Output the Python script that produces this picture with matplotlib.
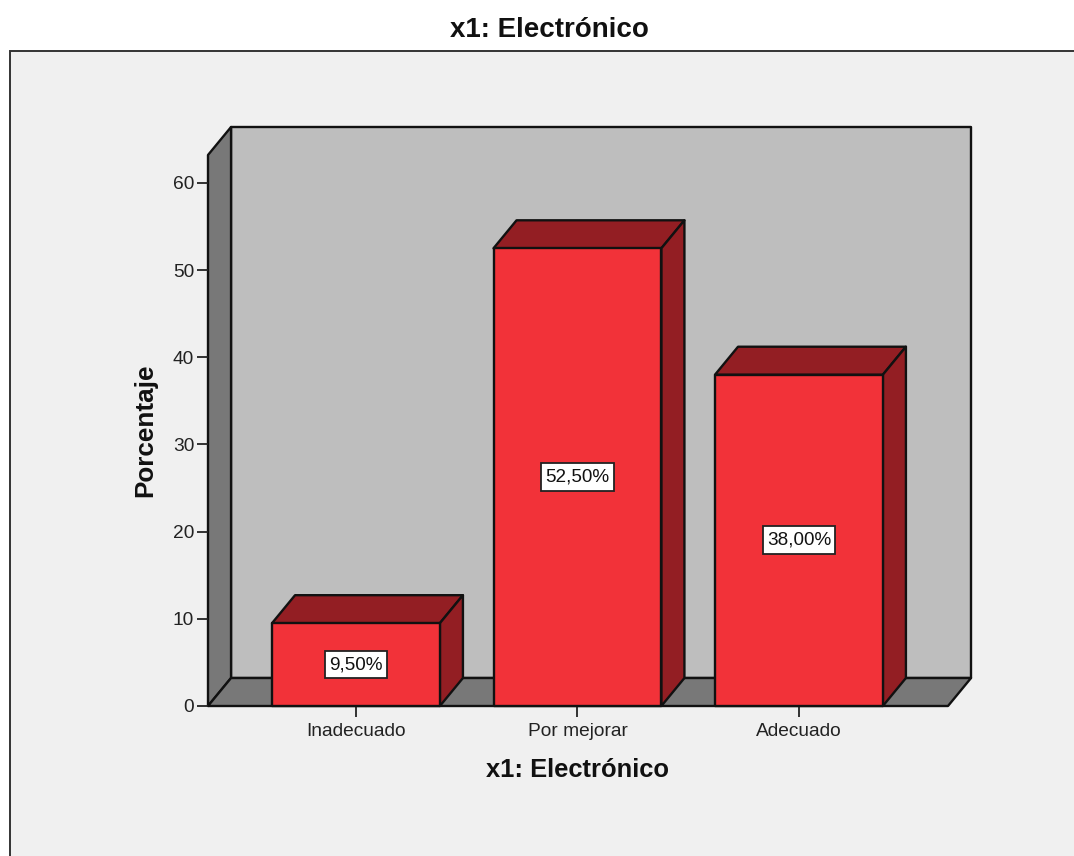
import matplotlib
matplotlib.use("Agg")
import matplotlib.pyplot as plt
from matplotlib.patches import Polygon, Rectangle

categories = ["Inadecuado", "Por mejorar", "Adecuado"]
percentages = [9.5, 52.5, 38.0]
y_ticks = [0, 10, 20, 30, 40, 50, 60]

W, H = 1074, 856
plt.rcParams["font.family"] = ["Liberation Sans", "DejaVu Sans"]

RED = "#F23239"
RED_DARK = "#931E23"
WALL = "#BEBEBE"
WALL_DARK = "#787878"
EDGE = "#111111"

# profundidad del efecto 3D en unidades de datos
DX = 0.104
DY = 3.21
BAR_W = 0.758
X0, X1 = -0.668, 2.673
YTOP = 63.2

fig = plt.figure(figsize=(W / 100, H / 100), dpi=100, facecolor="white")
fig.add_artist(Rectangle((10 / W, -0.02), 1.1, 1.02 - 51 / H, transform=fig.transFigure,
                         facecolor="#F0F0F0", edgecolor="#333333", linewidth=1.4, zorder=-1))

ax = fig.add_axes([208 / W, 1 - 706 / H, 740 / W, 551 / H])
ax.set_xlim(X0, X1)
ax.set_ylim(0, YTOP)
ax.patch.set_visible(False)
for s in ax.spines.values():
    s.set_visible(False)


def face(points, color, z):
    ax.add_patch(Polygon(points, closed=True, facecolor=color, edgecolor=EDGE,
                         linewidth=1.7, joinstyle="round", clip_on=False, zorder=z))


# pared del fondo, pared izquierda y suelo
face([(X0 + DX, DY), (X1 + DX, DY), (X1 + DX, YTOP + DY), (X0 + DX, YTOP + DY)], WALL, 1)
face([(X0, 0), (X0 + DX, DY), (X0 + DX, YTOP + DY), (X0, YTOP)], WALL_DARK, 1)
face([(X0, 0), (X1, 0), (X1 + DX, DY), (X0 + DX, DY)], WALL_DARK, 1)

# barras con cara frontal, superior y lateral
for i, v in enumerate(percentages):
    l, r = i - BAR_W / 2, i + BAR_W / 2
    face([(l, v), (r, v), (r + DX, v + DY), (l + DX, v + DY)], RED_DARK, 2)
    face([(r, 0), (r + DX, DY), (r + DX, v + DY), (r, v)], RED_DARK, 2)
    face([(l, 0), (r, 0), (r, v), (l, v)], RED, 3)
    ax.text(i, v / 2, f"{v:.2f}%".replace(".", ","), ha="center", va="center",
            fontsize=13.6, color="#111111", zorder=4,
            bbox=dict(boxstyle="square,pad=0.22", mutation_aspect=1.3, facecolor="white",
                      edgecolor="#222222", linewidth=1.3))

ax.set_xticks(range(len(categories)), categories)
ax.set_yticks(y_ticks)
ax.tick_params(axis="both", length=8, width=1.3, color="#222222", labelsize=13.8,
               labelcolor="#222222", pad=2)
ax.tick_params(axis="x", pad=4)
ax.set_xlabel("x1: Electrónico", fontsize=18.4, fontweight="bold", color="#111111", labelpad=13)
ax.set_ylabel("Porcentaje", fontsize=18.8, fontweight="bold", color="#111111", labelpad=11)

fig.text(549 / W, 1 - 30 / H, "x1: Electrónico", ha="center", va="center",
         fontsize=20, fontweight="bold", color="#111111")

fig.savefig("out.png", dpi=100, facecolor=fig.get_facecolor())
